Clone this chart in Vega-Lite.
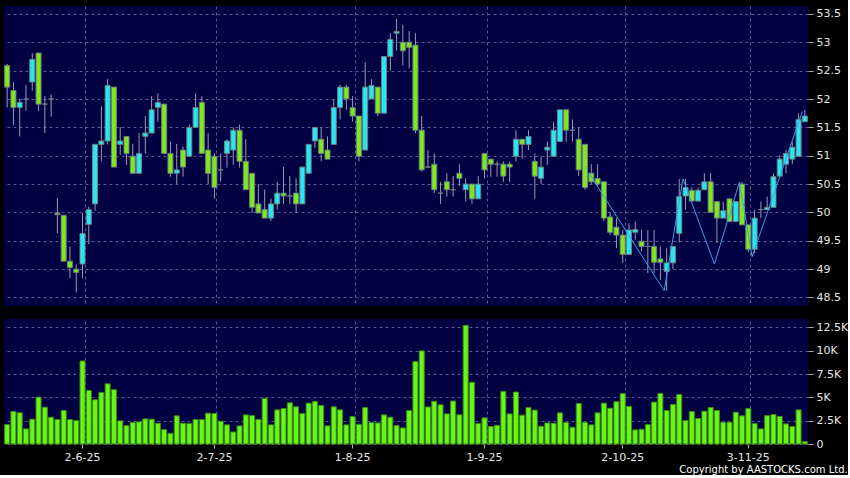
{
 "$schema": "https://vega.github.io/schema/vega-lite/v6.json",
 "background": "#000000",
 "padding": {"left": 4, "top": 6, "right": 0, "bottom": 0},
 "config": {
  "view": {"stroke": null, "fill": "#000042"},
  "axis": {"labelFont": "DejaVu Sans", "labelFontSize": 11, "labelColor": "#e6e6e6", "gridColor": "#5a5a96", "gridDash": [3, 3], "gridWidth": 1, "tickColor": "#b0b0b0", "domain": false, "title": null, "labelOverlap": false}
 },
 "title": {"text": "Copyright by AASTOCKS.com Ltd.", "orient": "bottom", "anchor": "end", "frame": "bounds", "color": "#ffffff", "font": "DejaVu Sans", "fontSize": 10, "fontWeight": "normal", "offset": 3},
 "datasets": {
  "px": [
   {"d":"2025-05-15","o":52.59,"h":52.62,"l":51.85,"c":52.21,"v":2080},
   {"d":"2025-05-16","o":52.15,"h":52.30,"l":51.54,"c":51.85,"v":3480},
   {"d":"2025-05-19","o":51.85,"h":52.00,"l":51.34,"c":51.94,"v":3340},
   {"d":"2025-05-20","o":52.00,"h":52.25,"l":51.79,"c":52.00,"v":1620},
   {"d":"2025-05-21","o":52.30,"h":52.81,"l":52.15,"c":52.70,"v":2660},
   {"d":"2025-05-22","o":52.81,"h":52.81,"l":51.79,"c":51.91,"v":5030},
   {"d":"2025-05-23","o":51.91,"h":52.05,"l":51.40,"c":51.91,"v":3950},
   {"d":"2025-05-26","o":52.00,"h":52.08,"l":51.69,"c":52.00,"v":2870},
   {"d":"2025-05-27","o":49.99,"h":50.25,"l":49.63,"c":49.96,"v":2620},
   {"d":"2025-05-28","o":49.95,"h":49.95,"l":49.14,"c":49.14,"v":3590},
   {"d":"2025-05-29","o":49.14,"h":49.40,"l":48.84,"c":49.03,"v":2620},
   {"d":"2025-05-30","o":49.00,"h":49.08,"l":48.59,"c":48.94,"v":2510},
   {"d":"2025-06-02","o":49.09,"h":49.99,"l":48.84,"c":49.63,"v":8900},
   {"d":"2025-06-03","o":49.79,"h":50.10,"l":49.44,"c":50.05,"v":5740},
   {"d":"2025-06-04","o":50.15,"h":51.20,"l":50.03,"c":51.20,"v":4740},
   {"d":"2025-06-05","o":51.20,"h":51.87,"l":50.90,"c":51.26,"v":5530},
   {"d":"2025-06-06","o":51.26,"h":52.35,"l":51.20,"c":52.24,"v":6460},
   {"d":"2025-06-09","o":52.21,"h":52.21,"l":50.80,"c":50.80,"v":5820},
   {"d":"2025-06-10","o":51.20,"h":51.51,"l":51.01,"c":51.26,"v":2480},
   {"d":"2025-06-11","o":51.34,"h":51.34,"l":50.84,"c":51.04,"v":1970},
   {"d":"2025-06-12","o":50.99,"h":51.21,"l":50.69,"c":50.69,"v":2300},
   {"d":"2025-06-13","o":50.69,"h":51.40,"l":50.69,"c":51.04,"v":2370},
   {"d":"2025-06-16","o":51.34,"h":51.70,"l":51.04,"c":51.40,"v":2690},
   {"d":"2025-06-17","o":51.40,"h":52.05,"l":51.40,"c":51.81,"v":2660},
   {"d":"2025-06-18","o":51.85,"h":52.10,"l":51.60,"c":51.94,"v":2230},
   {"d":"2025-06-19","o":51.91,"h":51.91,"l":51.04,"c":51.04,"v":1540},
   {"d":"2025-06-20","o":51.04,"h":51.25,"l":50.63,"c":50.69,"v":1150},
   {"d":"2025-06-23","o":50.69,"h":51.21,"l":50.50,"c":50.75,"v":3020},
   {"d":"2025-06-24","o":51.10,"h":51.16,"l":50.63,"c":50.80,"v":2230},
   {"d":"2025-06-25","o":50.99,"h":51.55,"l":50.99,"c":51.50,"v":2190},
   {"d":"2025-06-26","o":51.50,"h":52.10,"l":51.50,"c":51.85,"v":2620},
   {"d":"2025-06-27","o":51.94,"h":52.05,"l":51.04,"c":51.04,"v":2620},
   {"d":"2025-06-30","o":51.10,"h":51.40,"l":50.50,"c":50.69,"v":3300},
   {"d":"2025-07-02","o":50.99,"h":51.04,"l":50.24,"c":50.44,"v":3270},
   {"d":"2025-07-03","o":50.75,"h":51.04,"l":50.54,"c":50.75,"v":2440},
   {"d":"2025-07-04","o":51.04,"h":51.29,"l":50.79,"c":51.26,"v":2050},
   {"d":"2025-07-07","o":51.10,"h":51.50,"l":50.84,"c":51.45,"v":1290},
   {"d":"2025-07-08","o":51.45,"h":51.55,"l":50.79,"c":50.90,"v":1940},
   {"d":"2025-07-09","o":50.90,"h":51.29,"l":50.40,"c":50.40,"v":3120},
   {"d":"2025-07-10","o":50.69,"h":50.69,"l":49.99,"c":50.09,"v":3050},
   {"d":"2025-07-11","o":50.15,"h":50.50,"l":49.99,"c":49.99,"v":2620},
   {"d":"2025-07-14","o":50.05,"h":50.40,"l":49.90,"c":49.90,"v":4880},
   {"d":"2025-07-15","o":49.90,"h":50.24,"l":49.85,"c":50.15,"v":2050},
   {"d":"2025-07-16","o":50.15,"h":50.54,"l":50.05,"c":50.34,"v":3660},
   {"d":"2025-07-17","o":50.34,"h":50.80,"l":50.15,"c":50.29,"v":3810},
   {"d":"2025-07-18","o":50.29,"h":50.64,"l":50.15,"c":50.29,"v":4420},
   {"d":"2025-07-21","o":50.34,"h":50.60,"l":49.99,"c":50.15,"v":3990},
   {"d":"2025-07-22","o":50.15,"h":50.80,"l":50.15,"c":50.80,"v":3270},
   {"d":"2025-07-23","o":50.69,"h":51.20,"l":50.69,"c":51.20,"v":4380},
   {"d":"2025-07-24","o":51.26,"h":51.50,"l":51.14,"c":51.50,"v":4560},
   {"d":"2025-07-25","o":51.29,"h":51.50,"l":50.90,"c":51.04,"v":4130},
   {"d":"2025-07-28","o":51.10,"h":51.34,"l":50.94,"c":50.94,"v":1940},
   {"d":"2025-07-29","o":51.20,"h":52.00,"l":51.20,"c":51.85,"v":3990},
   {"d":"2025-07-30","o":51.85,"h":52.25,"l":51.64,"c":52.21,"v":3660},
   {"d":"2025-07-31","o":52.21,"h":52.25,"l":51.81,"c":52.00,"v":2050},
   {"d":"2025-08-01","o":51.85,"h":52.05,"l":51.60,"c":51.70,"v":2940},
   {"d":"2025-08-04","o":51.70,"h":51.70,"l":50.90,"c":50.99,"v":2120},
   {"d":"2025-08-05","o":51.10,"h":52.65,"l":51.10,"c":52.21,"v":3910},
   {"d":"2025-08-06","o":52.00,"h":52.35,"l":52.00,"c":52.24,"v":2300},
   {"d":"2025-08-07","o":52.21,"h":52.21,"l":51.70,"c":51.75,"v":2260},
   {"d":"2025-08-08","o":51.75,"h":52.75,"l":51.75,"c":52.75,"v":3120},
   {"d":"2025-08-11","o":52.75,"h":53.16,"l":52.50,"c":53.05,"v":2870},
   {"d":"2025-08-12","o":53.16,"h":53.41,"l":52.85,"c":53.19,"v":1970},
   {"d":"2025-08-13","o":53.00,"h":53.31,"l":52.59,"c":52.85,"v":1720},
   {"d":"2025-08-14","o":53.00,"h":53.20,"l":52.54,"c":52.91,"v":3590},
   {"d":"2025-08-15","o":52.95,"h":53.16,"l":51.40,"c":51.45,"v":8830},
   {"d":"2025-08-18","o":51.45,"h":51.70,"l":50.72,"c":50.75,"v":9980},
   {"d":"2025-08-19","o":50.80,"h":51.10,"l":50.78,"c":50.80,"v":3970},
   {"d":"2025-08-20","o":50.85,"h":51.04,"l":50.34,"c":50.40,"v":4580},
   {"d":"2025-08-21","o":50.34,"h":50.54,"l":50.15,"c":50.34,"v":4200},
   {"d":"2025-08-22","o":50.54,"h":50.69,"l":50.28,"c":50.40,"v":3230},
   {"d":"2025-08-25","o":50.40,"h":50.64,"l":50.28,"c":50.40,"v":4610},
   {"d":"2025-08-26","o":50.69,"h":50.85,"l":50.47,"c":50.60,"v":3130},
   {"d":"2025-08-27","o":50.40,"h":50.60,"l":50.19,"c":50.50,"v":12720},
   {"d":"2025-08-28","o":50.50,"h":50.50,"l":50.15,"c":50.24,"v":6620},
   {"d":"2025-08-29","o":50.24,"h":50.64,"l":50.24,"c":50.50,"v":2190},
   {"d":"2025-09-01","o":51.04,"h":51.04,"l":50.60,"c":50.75,"v":2800},
   {"d":"2025-09-02","o":50.94,"h":50.94,"l":50.63,"c":50.85,"v":1870},
   {"d":"2025-09-03","o":50.85,"h":50.90,"l":50.63,"c":50.85,"v":2010},
   {"d":"2025-09-04","o":50.85,"h":50.90,"l":50.54,"c":50.64,"v":5640},
   {"d":"2025-09-05","o":50.85,"h":50.90,"l":50.54,"c":50.80,"v":3230},
   {"d":"2025-09-08","o":50.99,"h":51.45,"l":50.90,"c":51.29,"v":5570},
   {"d":"2025-09-09","o":51.29,"h":51.29,"l":50.95,"c":51.20,"v":3090},
   {"d":"2025-09-10","o":51.20,"h":51.45,"l":51.10,"c":51.34,"v":3920},
   {"d":"2025-09-11","o":50.90,"h":51.04,"l":50.24,"c":50.64,"v":3630},
   {"d":"2025-09-12","o":50.60,"h":50.99,"l":50.50,"c":50.80,"v":1900},
   {"d":"2025-09-15","o":51.10,"h":51.25,"l":50.84,"c":51.15,"v":2260},
   {"d":"2025-09-16","o":50.99,"h":51.60,"l":50.99,"c":51.45,"v":2230},
   {"d":"2025-09-17","o":51.25,"h":51.81,"l":51.25,"c":51.81,"v":3340},
   {"d":"2025-09-18","o":51.81,"h":51.81,"l":51.25,"c":51.45,"v":2300},
   {"d":"2025-09-19","o":51.45,"h":51.64,"l":51.25,"c":51.45,"v":1800},
   {"d":"2025-09-22","o":51.29,"h":51.50,"l":50.64,"c":50.75,"v":4350},
   {"d":"2025-09-23","o":51.20,"h":51.20,"l":50.40,"c":50.44,"v":2330},
   {"d":"2025-09-24","o":50.69,"h":50.85,"l":50.50,"c":50.54,"v":2050},
   {"d":"2025-09-25","o":50.60,"h":50.85,"l":50.45,"c":50.50,"v":3340},
   {"d":"2025-09-26","o":50.54,"h":50.54,"l":49.85,"c":49.90,"v":4380},
   {"d":"2025-09-29","o":49.92,"h":50.00,"l":49.60,"c":49.65,"v":3840},
   {"d":"2025-09-30","o":49.74,"h":49.90,"l":49.37,"c":49.60,"v":4530},
   {"d":"2025-10-02","o":49.60,"h":49.69,"l":49.11,"c":49.26,"v":5400},
   {"d":"2025-10-03","o":49.26,"h":49.81,"l":49.26,"c":49.69,"v":4020},
   {"d":"2025-10-06","o":49.65,"h":49.84,"l":49.52,"c":49.70,"v":1510},
   {"d":"2025-10-08","o":49.49,"h":49.69,"l":49.31,"c":49.40,"v":1580},
   {"d":"2025-10-09","o":49.40,"h":49.69,"l":48.93,"c":49.40,"v":2080},
   {"d":"2025-10-10","o":49.40,"h":49.69,"l":48.93,"c":49.12,"v":4490},
   {"d":"2025-10-13","o":49.18,"h":49.40,"l":48.81,"c":49.12,"v":5420},
   {"d":"2025-10-14","o":48.96,"h":49.37,"l":48.62,"c":49.11,"v":3590},
   {"d":"2025-10-15","o":49.11,"h":49.40,"l":49.00,"c":49.40,"v":4240},
   {"d":"2025-10-16","o":49.63,"h":50.59,"l":49.47,"c":50.28,"v":5320},
   {"d":"2025-10-17","o":50.29,"h":50.59,"l":50.05,"c":50.44,"v":2510},
   {"d":"2025-10-20","o":50.39,"h":50.44,"l":50.20,"c":50.20,"v":3480},
   {"d":"2025-10-21","o":50.20,"h":50.44,"l":50.20,"c":50.39,"v":2730},
   {"d":"2025-10-22","o":50.40,"h":50.69,"l":50.40,"c":50.54,"v":3520},
   {"d":"2025-10-23","o":50.54,"h":50.69,"l":50.00,"c":50.00,"v":3920},
   {"d":"2025-10-24","o":50.19,"h":50.19,"l":49.46,"c":49.90,"v":3590},
   {"d":"2025-10-27","o":49.90,"h":50.19,"l":49.90,"c":50.03,"v":2330},
   {"d":"2025-10-28","o":50.24,"h":50.24,"l":49.84,"c":49.84,"v":2330},
   {"d":"2025-10-30","o":49.84,"h":50.19,"l":49.84,"c":50.19,"v":3410},
   {"d":"2025-10-31","o":50.50,"h":50.54,"l":49.78,"c":49.78,"v":3020},
   {"d":"2025-11-03","o":49.78,"h":49.78,"l":49.30,"c":49.35,"v":3810},
   {"d":"2025-11-04","o":49.35,"h":50.05,"l":49.28,"c":49.90,"v":2190},
   {"d":"2025-11-05","o":50.05,"h":50.19,"l":49.90,"c":50.05,"v":1620},
   {"d":"2025-11-06","o":50.05,"h":50.28,"l":50.05,"c":50.09,"v":3050},
   {"d":"2025-11-07","o":50.09,"h":50.69,"l":50.09,"c":50.63,"v":3160},
   {"d":"2025-11-10","o":50.64,"h":51.01,"l":50.64,"c":50.94,"v":2950},
   {"d":"2025-11-11","o":50.85,"h":51.10,"l":50.69,"c":51.04,"v":2160},
   {"d":"2025-11-12","o":50.94,"h":51.25,"l":50.85,"c":51.15,"v":1870},
   {"d":"2025-11-13","o":50.99,"h":51.75,"l":50.99,"c":51.64,"v":3660},
   {"d":"2025-11-14","o":51.60,"h":51.81,"l":51.60,"c":51.70,"v":250}
  ],
  "zz": [
   {"d":"2025-09-24","p":50.70},
   {"d":"2025-10-14","p":48.62},
   {"d":"2025-10-17","p":50.59},
   {"d":"2025-10-24","p":49.09},
   {"d":"2025-10-31","p":50.54},
   {"d":"2025-11-04","p":49.22},
   {"d":"2025-11-14","p":51.78}
  ]
 },
 "spacing": 13,
 "vconcat": [
  {
   "width": 804,
   "height": 300,
   "layer": [
    {
     "data": {"name": "px"},
     "mark": {"type": "rule", "color": "#9a9ab4", "strokeWidth": 1},
     "encoding": {
      "x": {"field": "d", "type": "ordinal", "scale": {"type": "band", "paddingInner": 0.2, "paddingOuter": 0.1},
            "axis": {"orient": "bottom", "values": ["2025-06-02","2025-07-02","2025-08-01","2025-09-01","2025-10-02","2025-11-03"], "labels": false, "ticks": false, "grid": true, "bandPosition": 1}},
      "y": {"field": "l", "type": "quantitative", "scale": {"domain": [48.35, 53.64], "zero": false, "nice": false},
            "axis": {"orient": "right", "values": [48.5,49,49.5,50,50.5,51,51.5,52,52.5,53,53.5], "tickCount": 30, "format": "~f", "tickSize": 5, "labelPadding": 3, "grid": true}},
      "y2": {"field": "h"}
     }
    },
    {
     "data": {"name": "px"},
     "mark": {"type": "bar", "stroke": "#6a8080", "strokeWidth": 1},
     "encoding": {
      "x": {"field": "d", "type": "ordinal"},
      "y": {"field": "o", "type": "quantitative"},
      "y2": {"field": "c"},
      "fill": {"condition": {"test": "datum.c > datum.o", "value": "#28e6f5"}, "value": "#80e620"}
     }
    },
    {
     "data": {"name": "zz"},
     "mark": {"type": "line", "color": "#3aa0e8", "strokeWidth": 1},
     "encoding": {
      "x": {"field": "d", "type": "ordinal", "bandPosition": 0},
      "y": {"field": "p", "type": "quantitative"}
     }
    }
   ]
  },
  {
   "width": 804,
   "height": 125,
   "data": {"name": "px"},
   "layer": [
    {
     "mark": {"type": "bar", "opacity": 0},
     "encoding": {
      "x": {"field": "d", "type": "ordinal", "scale": {"type": "band", "paddingInner": 0.2, "paddingOuter": 0.1},
            "axis": {"orient": "top", "values": ["2025-06-02","2025-07-02","2025-08-01","2025-09-01","2025-10-02","2025-11-03"], "labels": false, "ticks": false, "grid": true, "bandPosition": 1}},
      "y": {"field": "v", "type": "quantitative", "scale": {"domain": [0, 13400], "nice": false},
            "axis": {"orient": "right", "values": [0,2500,5000,7500,10000,12500], "tickCount": 30, "labelExpr": "datum.value == 0 ? '0' : format(datum.value/1000, '~f') + 'K'", "tickSize": 5, "labelPadding": 3, "grid": true}}
     }
    },
    {
     "mark": {"type": "bar", "fill": "#6af51a", "stroke": "#3c8c14", "strokeWidth": 1},
     "encoding": {
      "x": {"field": "d", "type": "ordinal",
            "axis": {"orient": "bottom", "values": ["2025-06-02","2025-07-02","2025-08-01","2025-09-01","2025-10-02","2025-11-03"], "labelExpr": "toNumber(slice(datum.value,8,10)) + '-' + toNumber(slice(datum.value,5,7)) + '-' + slice(datum.value,2,4)", "labelAngle": 0, "tickSize": 4, "labelPadding": 3, "grid": false}},
      "y": {"field": "v", "type": "quantitative"}
     }
    }
   ],
   "resolve": {"axis": {"x": "independent"}}
  }
 ]
}
